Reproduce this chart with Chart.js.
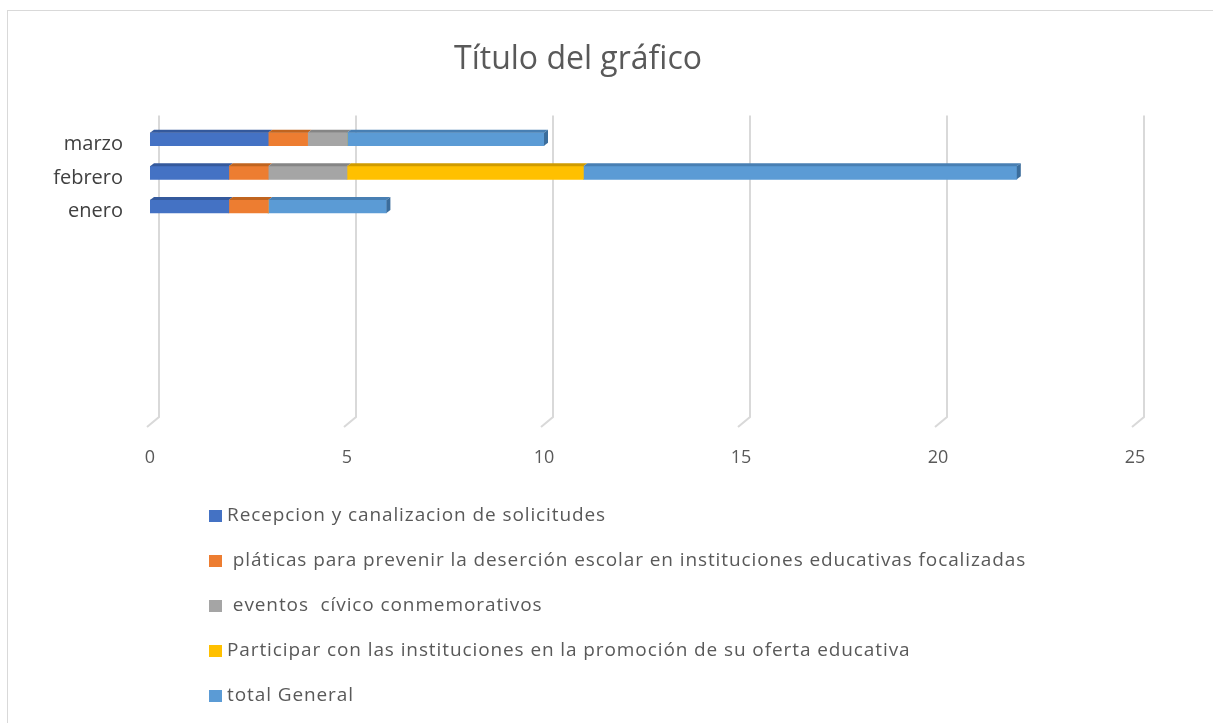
<!DOCTYPE html>
<html>
<head>
<meta charset="utf-8">
<script src="https://cdn.jsdelivr.net/npm/chart.js@4.4.1/dist/chart.umd.min.js"></script>
<style>
  html, body { margin: 0; padding: 0; background: #ffffff; }
  #wrap { position: relative; width: 1213px; height: 723px; }
</style>
</head>
<body>
<div id="wrap"><canvas id="chart" width="1213" height="723"></canvas></div>
<script>
// categorías (de arriba hacia abajo) y filas vacías del rango
const months = ['marzo', 'febrero', 'enero'];
const blankRows = ['', '', '', '', '', ''];

const seriesNames = [
    'Recepcion y canalizacion de solicitudes',
    ' pláticas para prevenir la deserción escolar en instituciones educativas focalizadas',
    ' eventos  cívico conmemorativos',
    'Participar con las instituciones en la promoción de su oferta educativa',
    'total General'
];

const recepcion = [3, 2, 2];
const platicas = [1, 1, 1];
const eventos = [1, 2, 0];
const participar = [0, 6, 0];
const totalGeneral = [5, 11, 3];

const xTicks = [0, 5, 10, 15, 20, 25];

const colors = ['#4472C4', '#ED7D31', '#A5A5A5', '#FFC000', '#5B9BD5'];
const topColors = ['#34599c', '#c0641f', '#858585', '#cf9b00', '#487fb3'];
const sideColors = ['#2c4c86', '#a85518', '#727272', '#b38600', '#3b6d9c'];

const FONT = '"Open Sans", Lato, sans-serif';
const DX = 4, DY = 3;

const seriesValues = [recepcion, platicas, eventos, participar, totalGeneral];

// fondo y marco del gráfico
const frame = {
    id: 'frame',
    beforeDraw(chart) {
        const ctx = chart.ctx;
        ctx.save();
        ctx.fillStyle = '#ffffff';
        ctx.fillRect(0, 0, chart.width, chart.height);
        ctx.strokeStyle = '#d9d9d9';
        ctx.lineWidth = 1;
        ctx.strokeRect(7.5, 10.5, chart.width + 20, chart.height + 20);
        ctx.restore();
    }
};

// líneas de división en la pared del fondo + pie en diagonal (efecto 3D)
const wallGrid = {
    id: 'wallGrid',
    beforeDatasetsDraw(chart) {
        const { ctx, chartArea, scales } = chart;
        ctx.save();
        ctx.strokeStyle = '#d9d9d9';
        ctx.lineWidth = 2;
        xTicks.forEach(v => {
            const px = scales.x.getPixelForValue(v);
            ctx.beginPath();
            ctx.moveTo(px + 9, chartArea.top - 7);
            ctx.lineTo(px + 9, chartArea.bottom - 8);
            ctx.lineTo(px - 3, chartArea.bottom + 2);
            ctx.stroke();
        });
        ctx.restore();
    }
};

// cara superior y extremo derecho de cada barra
const bar3d = {
    id: 'bar3d',
    afterDatasetsDraw(chart) {
        const ctx = chart.ctx;
        ctx.save();
        const lastByRow = {};
        chart.data.datasets.forEach((ds, di) => {
            const meta = chart.getDatasetMeta(di);
            meta.data.forEach((bar, i) => {
                const { x, y, base, height } = bar.getProps(['x', 'y', 'base', 'height'], true);
                if (Math.abs(x - base) < 0.5) return;
                const x0 = Math.min(x, base), x1 = Math.max(x, base);
                const yTop = y - height / 2;
                ctx.fillStyle = topColors[di];
                ctx.beginPath();
                ctx.moveTo(x0, yTop);
                ctx.lineTo(x0 + DX, yTop - DY);
                ctx.lineTo(x1 + DX, yTop - DY);
                ctx.lineTo(x1, yTop);
                ctx.closePath();
                ctx.fill();
                lastByRow[i] = { x1, yTop, yBot: y + height / 2, di };
            });
        });
        Object.values(lastByRow).forEach(r => {
            ctx.fillStyle = sideColors[r.di];
            ctx.beginPath();
            ctx.moveTo(r.x1, r.yTop);
            ctx.lineTo(r.x1 + DX, r.yTop - DY);
            ctx.lineTo(r.x1 + DX, r.yBot - DY);
            ctx.lineTo(r.x1, r.yBot);
            ctx.closePath();
            ctx.fill();
        });
        ctx.restore();
    }
};

// leyenda en lista vertical bajo el eje
const listLegend = {
    id: 'listLegend',
    afterDraw(chart) {
        const ctx = chart.ctx;
        ctx.save();
        ctx.font = '19px ' + FONT;
        ctx.letterSpacing = '0.9px';
        ctx.textBaseline = 'middle';
        chart.data.datasets.forEach((ds, i) => {
            const y = 516 + i * 45;
            ctx.fillStyle = ds.backgroundColor;
            ctx.fillRect(209, y - 6, 13, 12);
            ctx.fillStyle = '#595959';
            ctx.fillText(ds.label, 227, y);
        });
        ctx.restore();
    }
};

const labels = months.concat(blankRows);

new Chart(document.getElementById('chart'), {
    type: 'bar',
    data: {
        labels: labels,
        datasets: seriesNames.map((name, i) => ({
            label: name,
            data: seriesValues[i],
            backgroundColor: colors[i],
            borderWidth: 0,
            barThickness: 13
        }))
    },
    options: {
        indexAxis: 'y',
        responsive: false,
        animation: false,
        layout: { padding: { left: 0, right: 57, top: 0, bottom: 0 } },
        plugins: {
            legend: { display: false },
            tooltip: { enabled: false },
            title: {
                display: true,
                text: 'Título del gráfico',
                color: '#595959',
                font: { family: FONT, size: 32, weight: 'normal' },
                padding: { top: 41, bottom: 43 }
            }
        },
        scales: {
            x: {
                stacked: true,
                min: 0,
                max: 25,
                afterBuildTicks(scale) { scale.ticks = xTicks.map(v => ({ value: v })); },
                afterFit(scale) { scale.height = 298; },
                grid: { display: false },
                border: { display: false },
                ticks: {
                    color: '#595959',
                    font: { family: FONT, size: 18 },
                    padding: 14
                }
            },
            y: {
                stacked: true,
                afterFit(scale) { scale.width = 150; },
                grid: { display: false },
                border: { display: false },
                ticks: {
                    color: '#404040',
                    font: { family: FONT, size: 20 },
                    padding: 19,
                    labelOffset: 5,
                    autoSkip: false
                }
            },
            // margen derecho del área de trazado (sin etiquetas)
            yRight: {
                type: 'linear',
                position: 'right',
                afterFit(scale) { scale.width = 21; },
                grid: { display: false },
                border: { display: false },
                ticks: { display: false }
            }
        }
    },
    plugins: [frame, wallGrid, bar3d, listLegend]
});
</script>
</body>
</html>
